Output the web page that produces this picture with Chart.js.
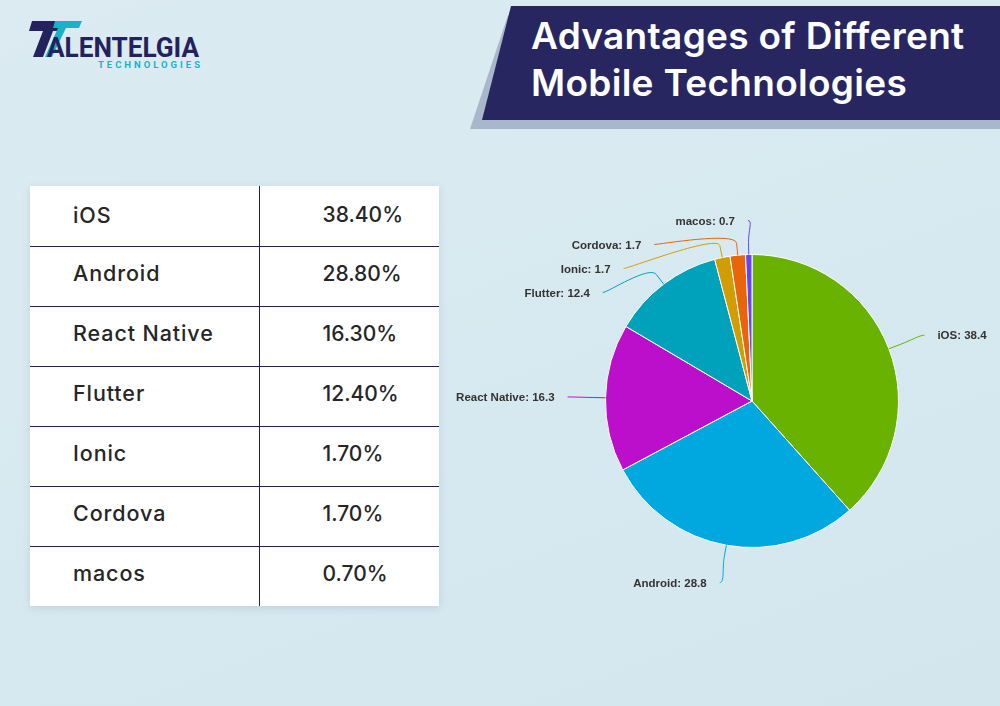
<!DOCTYPE html>
<html>
<head>
<meta charset="utf-8">
<script src="https://cdn.jsdelivr.net/npm/chart.js@4.4.1/dist/chart.umd.min.js"></script>
<style>
    html, body { margin: 0; padding: 0; }
    body {
        width: 1000px; height: 706px; overflow: hidden; position: relative;
        background: linear-gradient(160deg, #dcebf2 0%, #d7e9f0 55%, #d3e6ee 100%);
        font-family: Inter, "Open Sans", sans-serif;
    }
    .title {
        position: absolute; left: 531px; top: 12px;
        color: #fff; font-weight: 600; font-size: 37px; line-height: 47px;
        letter-spacing: 0.3px; white-space: nowrap;
    }
    #tbl {
        position: absolute; left: 30px; top: 186px; width: 409px;
        border-collapse: collapse; table-layout: fixed; background: #fff;
        box-shadow: 0 2px 8px rgba(60, 90, 120, 0.15);
    }
    #tbl td {
        box-sizing: border-box; height: 60px; padding: 0 0 6px 0;
        font-size: 21.5px; font-weight: 500; color: #262626;
        border-top: 1px solid #23214f;
    }
    #tbl tr:first-child td { border-top: none; padding-bottom: 2px; }
    #tbl td.name { width: 229px; padding-left: 43px; letter-spacing: 0.9px; border-right: 1px solid #23214f; }
    #tbl td.val { width: 180px; padding-left: 63px; font-size: 21px; }
    #wrap { position: absolute; left: 440px; top: 180px; width: 560px; height: 440px; }
</style>
</head>
<body>

<svg width="1000" height="140" style="position:absolute;left:0;top:0">
    <!-- logo -->
    <polygon points="32,21 62,21 58,31 53,31 43,57 33,57 43,31 29,31" fill="#23225e"/>
    <polygon points="55,21 82,21 79,28 66,28 52,57 45,57 58,28 53,28" fill="#1ab2c6"/>
    <text x="47" y="57" font-family="'Liberation Sans Narrow', Roboto, sans-serif" font-weight="bold"
          font-size="27" fill="#23225e" textLength="152" lengthAdjust="spacingAndGlyphs">ALENTELGIA</text>
    <text x="98" y="68" font-family="Roboto, sans-serif" font-weight="bold"
          font-size="9.5" fill="#1ab2c6" textLength="102" lengthAdjust="spacing">TECHNOLOGIES</text>
    <!-- title banner -->
    <polygon points="508,15 1000,15 1000,129 470,129" fill="#a8b7cb"/>
    <polygon points="511,6 1000,6 1000,120 482,120" fill="#272660"/>
</svg>
<div class="title">Advantages of Different<br>Mobile Technologies</div>

<table id="tbl"></table>

<div id="wrap"><canvas id="pieChart"></canvas></div>

<script>
const categories = ['iOS', 'Android', 'React Native', 'Flutter', 'Ionic', 'Cordova', 'macos'];
const shares = [38.4, 28.8, 16.3, 12.4, 1.7, 1.7, 0.7];
const sliceColors = ['#69b300', '#00a8e0', '#bb0fcb', '#00a1bb', '#d29d00', '#e8650a', '#6a42ee'];

const LABEL_DISTANCE = 38;
const BREAK_DISTANCE = 12;
const LABEL_GAP = 24;

// table on the left
const tbl = document.getElementById('tbl');
categories.forEach((name, i) => {
    const tr = document.createElement('tr');
    tr.innerHTML = '<td class="name">' + name + '</td><td class="val">' + shares[i].toFixed(2) + '%</td>';
    tbl.appendChild(tr);
});

// spread labels on one side so they do not overlap
function distribute(list, top, bottom) {
    list.sort((a, b) => a.natY - b.natY);
    const place = g => {
        const n = g.items.length;
        const mean = g.items.reduce((s, it) => s + it.natY, 0) / n;
        let start = mean - (n - 1) * LABEL_GAP / 2;
        g.start = Math.max(top, Math.min(start, bottom - (n - 1) * LABEL_GAP));
    };
    const groups = list.map(it => ({ items: [it] }));
    groups.forEach(place);
    let changed = true;
    while (changed) {
        changed = false;
        for (let k = 0; k < groups.length - 1; k++) {
            const a = groups[k], b = groups[k + 1];
            if (a.start + a.items.length * LABEL_GAP > b.start) {
                a.items = a.items.concat(b.items);
                groups.splice(k + 1, 1);
                place(a);
                changed = true;
                break;
            }
        }
    }
    groups.forEach(g => g.items.forEach((it, j) => {
        it.y = g.start + j * LABEL_GAP;
        it.clamped = it.y <= top + 2 || it.y >= bottom - 2;
    }));
}

const pieLabels = {
    id: 'pieLabels',
    afterDatasetsDraw(chart) {
        const ctx = chart.ctx;
        const meta = chart.getDatasetMeta(0);
        const items = meta.data.map((arc, i) => {
            const p = arc.getProps(['x', 'y', 'startAngle', 'endAngle', 'outerRadius'], true);
            const mid = (p.startAngle + p.endAngle) / 2;
            const R = p.outerRadius + LABEL_DISTANCE;
            return { i, cx: p.x, cy: p.y, r: p.outerRadius, R, mid,
                     left: Math.cos(mid) < 0, natY: p.y + Math.sin(mid) * R };
        });
        if (!items.length) return;
        const { cx, cy, R } = items[0];
        distribute(items.filter(it => it.left), cy - R + 4, cy + R);
        distribute(items.filter(it => !it.left), cy - R + 4, cy + R);

        ctx.save();
        ctx.font = 'bold 11.5px "Liberation Sans", Arial, sans-serif';
        ctx.textBaseline = 'middle';
        items.forEach(it => {
            const yx = it.clamped ? it.natY : it.y;
            const dx = Math.sqrt(Math.max(0, R * R - (yx - cy) * (yx - cy)));
            const x = it.left ? cx - dx : cx + dx;
            const y = it.y;
            const tx = cx + Math.cos(it.mid) * it.r, ty = cy + Math.sin(it.mid) * it.r;
            const bx = cx + Math.cos(it.mid) * (it.r + BREAK_DISTANCE);
            const by = cy + Math.sin(it.mid) * (it.r + BREAK_DISTANCE);

            ctx.strokeStyle = sliceColors[it.i];
            ctx.lineWidth = 1;
            ctx.beginPath();
            ctx.moveTo(x, y);
            ctx.bezierCurveTo(x + (it.left ? 5 : -5), y, 2 * bx - tx, 2 * by - ty, bx, by);
            ctx.lineTo(tx, ty);
            ctx.stroke();

            ctx.fillStyle = '#333';
            ctx.textAlign = it.left ? 'right' : 'left';
            ctx.fillText(categories[it.i] + ': ' + shares[it.i], it.left ? x - 13 : x + 13, y + 1);
        });
        ctx.restore();
    }
};

new Chart(document.getElementById('pieChart'), {
    type: 'pie',
    data: {
        labels: categories,
        datasets: [{
            data: shares,
            backgroundColor: sliceColors,
            borderColor: '#ffffff',
            borderWidth: 1,
        }]
    },
    options: {
        responsive: true,
        maintainAspectRatio: false,
        animation: false,
        layout: {
            padding: { left: 165, right: 101, top: 74, bottom: 72 }
        },
        plugins: {
            legend: { display: false },
            tooltip: { enabled: false },
        }
    },
    plugins: [pieLabels]
});
</script>
</body>
</html>
